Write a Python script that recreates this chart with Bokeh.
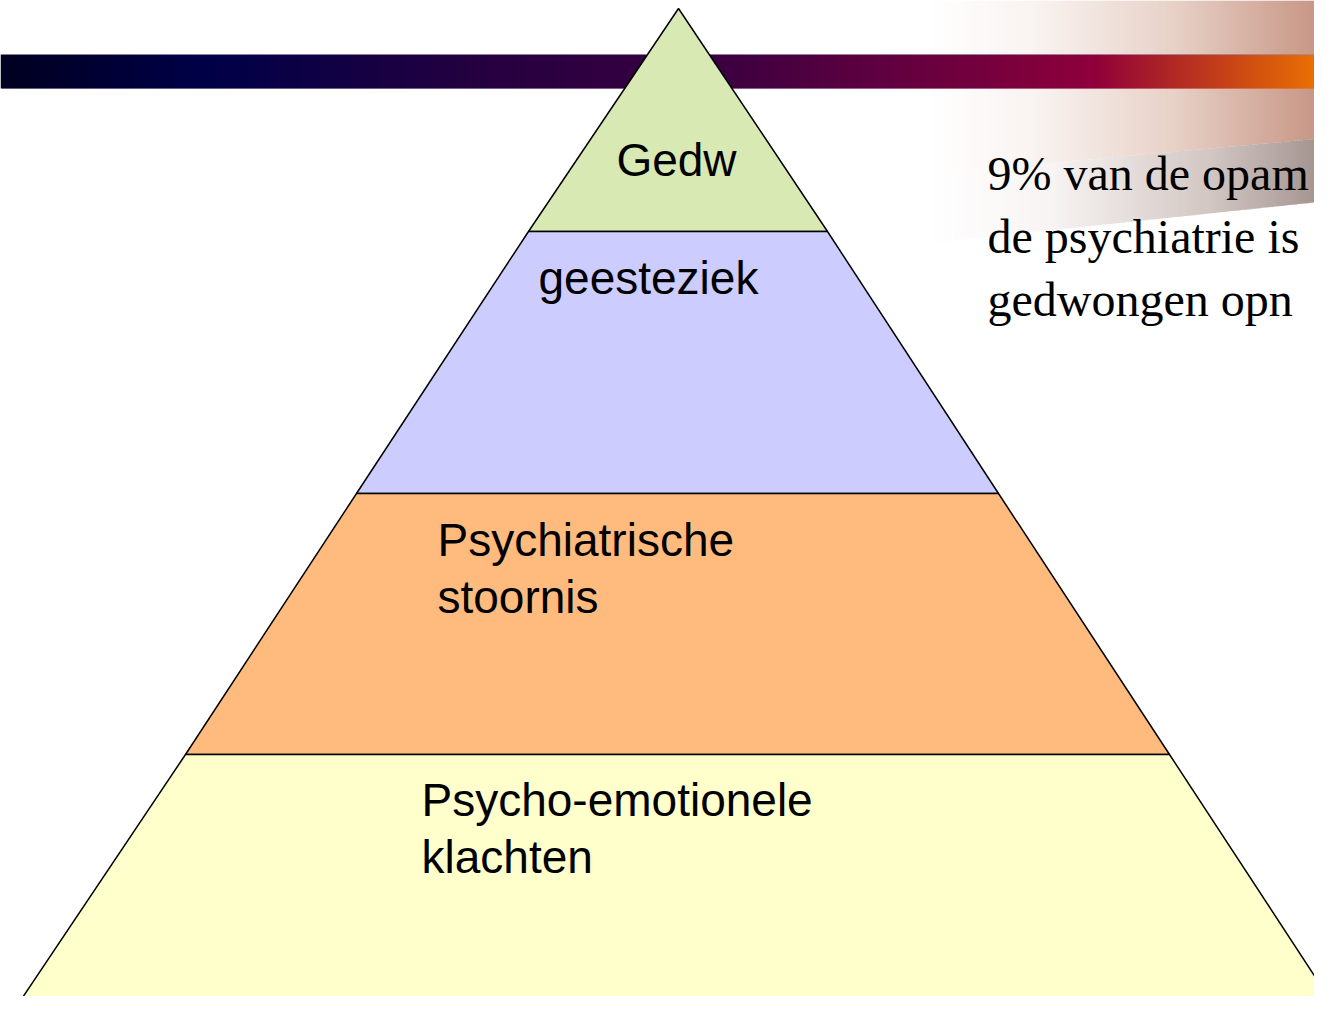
import numpy as np
from bokeh.plotting import figure
from bokeh.models import Range1d, ColumnDataSource
from bokeh.core.properties import value
from bokeh.embed import file_html
from bokeh.resources import INLINE

# ---------------- data ----------------
tiers = ["Gedw", "geesteziek", "Psychiatrische stoornis", "Psycho-emotionele klachten"]
tier_lines = [["Gedw"], ["geesteziek"], ["Psychiatrische", "stoornis"],
              ["Psycho-emotionele", "klachten"]]
tier_colors = ["#d8e9b4", "#ccccff", "#ffbb7d", "#ffffcc"]
callout_lines = ["9% van de opam", "de psychiatrie is", "gedwongen opn"]

# ---------------- layout (pixel space of the slide) ----------------
W, H = 1314, 996
apex_x, apex_y = 678, 8
tier_bottom_y = [231, 493, 754, 1012]
tier_left_x = [528, 356, 185, 12]
tier_right_x = [827, 998, 1169, 1338]
label_x = [676, 538, 437, 421]
label_align = ["center", "left", "left", "left"]
label_first_baseline = [159, 277, 539, 799]
label_line_gap = 57
callout_x, callout_baseline, callout_gap = 987, 173, 63

p = figure(width=W, height=H, output_backend="svg", toolbar_location=None,
           x_range=Range1d(0, W), y_range=Range1d(H, 0),
           x_axis_location=None, y_axis_location=None, min_border=0,
           background_fill_color="white", border_fill_color="white")
p.grid.visible = False
p.outline_line_color = None

def blend(stops, t):
    pos = [s[0] for s in stops]
    r = np.interp(t, pos, [s[1][0] for s in stops])
    g = np.interp(t, pos, [s[1][1] for s in stops])
    b = np.interp(t, pos, [s[1][2] for s in stops])
    return "#%02x%02x%02x" % (int(r), int(g), int(b))

# ---------- decorative swoosh top-right ----------
step = 3
xs = np.arange(930, 1332, step)
sw_l, sw_r, sw_t, sw_b, sw_c = [], [], [], [], []
gb_l, gb_r, gb_t, gb_b, gb_c = [], [], [], [], []
for x0 in xs:
    t = (x0 - 930) / 400.0
    yb = 240 - 40 * (x0 - 950) / 380.0
    ytop_gray = 137 + (1330 - x0) * 0.09
    sw_l.append(x0); sw_r.append(x0 + step + 1); sw_t.append(0); sw_b.append(min(ytop_gray, yb))
    sw_c.append(blend([(0, (255, 255, 255)), (0.25, (250, 244, 242)),
                       (0.6, (232, 210, 200)), (1.0, (196, 144, 126))], t))
    if ytop_gray < yb:
        gb_l.append(x0); gb_r.append(x0 + step + 1); gb_t.append(ytop_gray); gb_b.append(yb)
        gb_c.append(blend([(0, (255, 255, 255)), (0.3, (248, 244, 243)),
                           (0.7, (210, 198, 194)), (1.0, (158, 142, 138))], t))
p.quad(left=sw_l, right=sw_r, top=sw_t, bottom=sw_b, fill_color=sw_c, line_color=None)
p.quad(left=gb_l, right=gb_r, top=gb_t, bottom=gb_b, fill_color=gb_c, line_color=None)

# ---------- gradient title bar ----------
bstep = 2
bx = np.arange(0, 1332, bstep)
bar_stops = [(0, (0, 0, 32)), (200, (0, 0, 72)), (500, (40, 0, 64)), (700, (56, 0, 64)),
             (900, (100, 0, 64)), (1090, (142, 0, 60)), (1160, (172, 34, 40)),
             (1240, (205, 75, 20)), (1330, (240, 120, 0))]
bc = [blend(bar_stops, x0) for x0 in bx]
p.quad(left=bx, right=bx + bstep + 1, top=54, bottom=88, fill_color=bc, line_color=None)
p.segment(x0=0, x1=1330, y0=54, y1=54, line_color="#9a8aa8", line_width=1, line_alpha=0.7)

# ---------- pyramid tiers ----------
pxs, pys = [], []
for i in range(len(tiers)):
    if i == 0:
        pxs.append([apex_x, tier_right_x[0], tier_left_x[0]])
        pys.append([apex_y, tier_bottom_y[0], tier_bottom_y[0]])
    else:
        pxs.append([tier_left_x[i - 1], tier_right_x[i - 1], tier_right_x[i], tier_left_x[i]])
        pys.append([tier_bottom_y[i - 1], tier_bottom_y[i - 1], tier_bottom_y[i], tier_bottom_y[i]])
src = ColumnDataSource(dict(xs=pxs, ys=pys, color=tier_colors, name=tiers))
p.patches("xs", "ys", source=src, fill_color="color", line_color="black", line_width=1.5)

# ---------- tier labels ----------
for i, lines in enumerate(tier_lines):
    for j, s in enumerate(lines):
        p.text(x=[label_x[i]], y=[label_first_baseline[i] + j * label_line_gap], text=[s],
               text_font=value("Liberation Sans"), text_font_size="46px",
               text_color="black", text_align=label_align[i], text_baseline="alphabetic")

# ---------- callout ----------
for j, s in enumerate(callout_lines):
    p.text(x=[callout_x], y=[callout_baseline + j * callout_gap], text=[s],
           text_font=value("Liberation Serif"), text_font_size="48px",
           text_color="black", text_align="left", text_baseline="alphabetic")

open("out.html", "w").write(file_html(p, INLINE))
